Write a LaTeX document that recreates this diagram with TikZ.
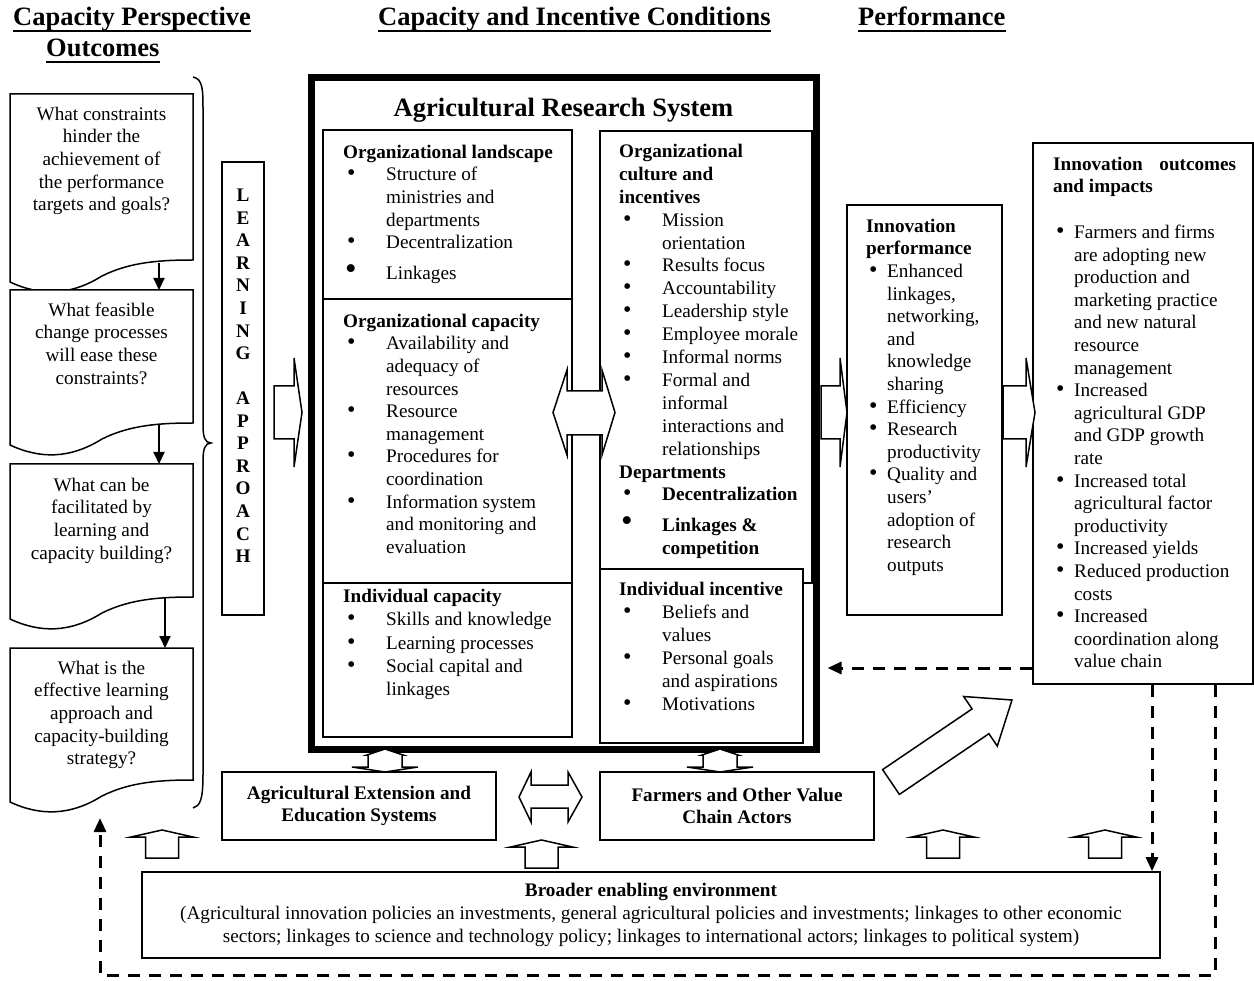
\documentclass[tikz,border=0pt]{standalone}
\usepackage{fontspec}
\setmainfont{Liberation Serif}
\usetikzlibrary{arrows.meta}

\newcommand{\bodyfont}{\fontsize{19.2}{22.6}\selectfont}
\newcommand{\headfont}{\fontsize{26.5}{31}\selectfont}
\newcommand{\dotglyph}{{\fontsize{24}{20}\selectfont\textbullet}}
\newcommand{\itm}{\hspace*{4pt}\makebox[39pt][l]{\dotglyph}}
\newcommand{\itmL}{\hspace*{2pt}\makebox[41pt][l]{\fontsize{33}{20}\selectfont\textbullet}}
\newcommand{\cnt}{\hspace*{43pt}}
\newcommand{\sitm}{\hspace*{3pt}\makebox[18pt][l]{\dotglyph}}
\newcommand{\scnt}{\hspace*{21pt}}

\begin{document}
\begin{tikzpicture}[x=1pt, y=-1pt,
    hd/.style={anchor=base west, inner sep=0pt, font=\headfont\bfseries},
    txt/.style={anchor=north west, inner sep=0pt, align=left, font=\bodyfont},
    qtxt/.style={anchor=north, inner sep=0pt, align=center, font=\bodyfont},
    plainbox/.style={draw, line width=1.6pt, fill=white},
    doc/.style={draw, fill=white, line width=1.5pt},
    blk/.style={draw, fill=white, line width=1.5pt, line join=miter},
    flow/.style={line width=2pt, -{Triangle[width=11pt,length=12pt]}},
    fback/.style={line width=3pt, dash pattern=on 12pt off 9pt, -{Triangle[width=12pt,length=14pt]}}]
    \useasboundingbox (0,0) rectangle (1254,981);

    % Column headings
    \node[hd] (h1) at (13,26) {Capacity Perspective};
    \node[hd] (h1b) at (46,57) {Outcomes};
    \node[hd] (h2) at (378,26) {Capacity and Incentive Conditions};
    \node[hd] (h3) at (858,26) {Performance};
    \foreach \hname in {h1,h1b,h2,h3}
        \draw[line width=2pt] ([yshift=-5.5pt]\hname.base west) -- ([yshift=-5.5pt]\hname.base east);

    % Question documents with wavy bottoms
    \foreach \ty/\by in {94/260, 290/423, 464/597, 648/780} {
        \draw[doc] (10,\ty) -- (193,\ty) -- (193,\by)
            .. controls (160,\by) and (130,\by+2) .. (102,\by+16)
            .. controls (70,\by+36) and (40,\by+36) .. (10,\by+22) -- cycle;
    }
    \node[qtxt] (q1) at (101.5,104.2) {\strut What constraints\\hinder the\\achievement of\\the performance\\targets and goals?};
    \node[qtxt] (q2) at (101.5,300.2) {\strut What feasible\\change processes\\will ease these\\constraints?};
    \node[qtxt] (q3) at (101.5,475.2) {\strut What can be\\facilitated by\\learning and\\capacity building?};
    \node[qtxt] (q4) at (101.5,658.2) {\strut What is the\\effective learning\\approach and\\capacity-building\\strategy?};

    % Arrows between the questions
    \coordinate (q1out) at (159,263);
    \coordinate (q2in) at (159,290);
    \coordinate (q2out) at (159,424);
    \coordinate (q3in) at (159,464);
    \coordinate (q3out) at (165,598);
    \coordinate (q4in) at (165,648);
    \draw[flow] (q1out) -- (q2in);
    \draw[flow] (q2out) -- (q3in);
    \draw[flow] (q3out) -- (q4in);

    % Brace round the questions
    \draw[line width=1.5pt] (193,77) .. controls (203,79) and (203,90) .. (203,110) -- (203,425)
        .. controls (203,437) and (205,443) .. (211,443)
        .. controls (205,443) and (203,449) .. (203,461) -- (203,775)
        .. controls (203,800) and (200,806) .. (193,808);

    % Learning approach
    \node[plainbox, minimum width=42pt, minimum height=453pt] (lbox) at (243,388.5) {};
    \node[anchor=north, inner sep=0pt, align=center, font=\fontsize{19.2}{22.56}\selectfont\bfseries] (lrn) at (243,185.7)
        {\strut L\\E\\A\\R\\N\\I\\N\\G\\ \\A\\P\\P\\R\\O\\A\\C\\H};

    % Agricultural Research System
    \node[draw, line width=7pt, minimum width=505pt, minimum height=671pt] (ars) at (563.5,413.5) {};
    \node[font=\headfont\bfseries, anchor=base, inner sep=0pt] (arst) at (563.5,117) {Agricultural Research System};
    \draw[line width=1.6pt] (323,130) rectangle (572,737);
    \draw[line width=1.6pt] (323,299) -- (572,299);
    \draw[line width=1.6pt] (323,583) -- (572,583);
    \draw[line width=1.6pt] (600,131) rectangle (812,583);
    \draw[plainbox] (600,569) rectangle (803,743);

    \node[txt] (land) at (343,142.2) {\strut\textbf{Organizational landscape}\\
        \itm Structure of\\\cnt ministries and\\\cnt departments\\
        \itm Decentralization\\[8pt]
        \itmL Linkages};
    \node[txt] (orgcap) at (343,311.2) {\strut\textbf{Organizational capacity}\\
        \itm Availability and\\\cnt adequacy of\\\cnt resources\\
        \itm Resource\\\cnt management\\
        \itm Procedures for\\\cnt coordination\\
        \itm Information system\\\cnt and monitoring and\\\cnt evaluation};
    \node[txt, font=\fontsize{19.2}{23.2}\selectfont] (indcap) at (343,586.2) {\strut\textbf{Individual capacity}\\
        \itm Skills and knowledge\\
        \itm Learning processes\\
        \itm Social capital and\\\cnt linkages};
    \node[txt, font=\fontsize{19.2}{22.9}\selectfont] (cult) at (619,141.2) {\strut\textbf{Organizational}\\\textbf{culture and}\\\textbf{incentives}\\
        \itm Mission\\\cnt orientation\\
        \itm Results focus\\
        \itm Accountability\\
        \itm Leadership style\\
        \itm Employee morale\\
        \itm Informal norms\\
        \itm Formal and\\\cnt informal\\\cnt interactions and\\\cnt relationships\\
        \textbf{Departments}\\
        \itm\textbf{Decentralization}\\[8pt]
        \itmL\textbf{Linkages \&}\\\cnt\textbf{competition}};
    \node[txt, font=\fontsize{19.2}{23}\selectfont] (indinc) at (619,579.2) {\strut\textbf{Individual incentive}\\
        \itm Beliefs and\\\cnt values\\
        \itm Personal goals\\\cnt and aspirations\\
        \itm Motivations};

    % Double arrow between the two columns
    \draw[blk] (553,412.5) -- (567,370) -- (567,391) -- (602,391) -- (602,370) -- (615,412.5)
        -- (602,455) -- (602,435) -- (567,435) -- (567,455) -- cycle;

    % Performance boxes
    \node[plainbox, minimum width=155pt, minimum height=410pt] (perf) at (924.5,410) {};
    \node[txt] (perft) at (866,216.2) {\strut\textbf{Innovation}\\\textbf{performance}\\
        \sitm Enhanced\\\scnt linkages,\\\scnt networking,\\\scnt and\\\scnt knowledge\\\scnt sharing\\
        \sitm Efficiency\\
        \sitm Research\\\scnt productivity\\
        \sitm Quality and\\\scnt users’\\\scnt adoption of\\\scnt research\\\scnt outputs};
    \node[plainbox, minimum width=220pt, minimum height=541pt] (impact) at (1143,413.5) {};
    \node[txt] (impactt) at (1053,154.2) {\strut\textbf{\makebox[183pt][l]{Innovation\hfill outcomes}}\\\textbf{and impacts}\\[23pt]
        \sitm Farmers and firms\\\scnt are adopting new\\\scnt production and\\\scnt marketing practice\\\scnt and new natural\\\scnt resource\\\scnt management\\
        \sitm Increased\\\scnt agricultural GDP\\\scnt and GDP growth\\\scnt rate\\
        \sitm Increased total\\\scnt agricultural factor\\\scnt productivity\\
        \sitm Increased yields\\
        \sitm Reduced production\\\scnt costs\\
        \sitm Increased\\\scnt coordination along\\\scnt value chain};

    % Block arrows pointing right
    \foreach \xa/\xb/\xc in {274/294/302, 821/840/847, 1003/1026/1035} {
        \draw[blk] (\xa,386) -- (\xb,386) -- (\xb,358) -- (\xc,412.5) -- (\xb,467) -- (\xb,439) -- (\xa,439) -- cycle;
    }

    % Lower actors
    \node[plainbox, minimum width=274pt, minimum height=68pt, align=center, font=\bodyfont\bfseries] (ext) at (359,806)
        {Agricultural Extension and\\Education Systems};
    \node[plainbox, minimum width=274pt, minimum height=68pt, align=center, font=\bodyfont\bfseries] (farm) at (737,806)
        {Farmers and Other Value\\Chain Actors};
    \draw[blk] (519,797) -- (531,772) -- (531,785) -- (568,785) -- (568,772) -- (582,797)
        -- (568,822) -- (568,808) -- (531,808) -- (531,822) -- cycle;

    % Arrows out of the research system
    \foreach \cx in {385,720} {
        \draw[blk] (\cx,749) -- (\cx+18,755) -- (\cx+17,755) -- (\cx+17,767) -- (\cx+33,767) -- (\cx,772)
            -- (\cx-33,767) -- (\cx-17,767) -- (\cx-17,755) -- (\cx-18,755) -- cycle;
    }

    % Broader enabling environment
    \node[plainbox, minimum width=1018pt, minimum height=86pt, align=center, font=\bodyfont] (broad) at (651,915)
        {\textbf{Broader enabling environment}\\
        (Agricultural innovation policies an investments, general agricultural policies and investments; linkages to other economic\\
        sectors; linkages to science and technology policy; linkages to international actors; linkages to political system)};
    \foreach \cx/\ya in {162/830, 541.5/840, 943/830, 1105/830} {
        \draw[blk] (\cx,\ya) -- (\cx+31,\ya+7) -- (\cx+16.5,\ya+7) -- (\cx+16.5,\ya+28)
            -- (\cx-16.5,\ya+28) -- (\cx-16.5,\ya+7) -- (\cx-31,\ya+7) -- cycle;
    }

    % Diagonal arrow to the outcomes
    \draw[blk] (882.6,769.6) -- (972.1,708.9) -- (963.7,696.5) -- (1012,700) -- (997.3,746.1)
        -- (988.9,733.7) -- (899.4,794.4) -- cycle;

    % Feedback loops
    \coordinate (cr) at (1215,975);
    \coordinate (cl) at (100,975);
    \coordinate (q4fb) at (100,818);
    \draw[fback, shorten >=8pt] (impact.west |- 0,668) -- (ars.east |- 0,668);
    \draw[fback] (impact.south -| 1152,0) -- (broad.north -| 1152,0);
    \draw[fback] (impact.south -| cr) -- (cr) -- (cl) -- (q4fb);
\end{tikzpicture}
\end{document}
